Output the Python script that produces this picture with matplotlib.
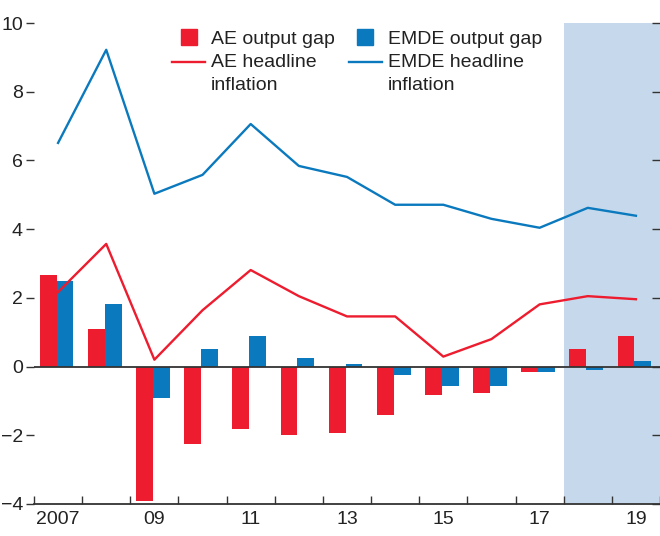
import numpy as np
import matplotlib
matplotlib.use('Agg')
import matplotlib.pyplot as plt
from matplotlib.lines import Line2D
from matplotlib.legend_handler import HandlerLine2D

plt.rcParams['font.family'] = ['Liberation Sans Narrow', 'Liberation Sans', 'DejaVu Sans']

# Data
years = list(range(2007, 2020))
year_labels = ['2007', '09', '11', '13', '15', '17', '19']
ae_gap = [2.66, 1.08, -3.91, -2.24, -1.83, -2.00, -1.92, -1.41, -0.83, -0.76, -0.17, 0.50, 0.90]
emde_gap = [2.49, 1.83, -0.91, 0.50, 0.90, 0.24, 0.07, -0.25, -0.58, -0.58, -0.17, -0.09, 0.16]
ae_infl = [2.17, 3.57, 0.20, 1.64, 2.81, 2.05, 1.46, 1.46, 0.29, 0.80, 1.81, 2.05, 1.96]
emde_infl = [6.51, 9.22, 5.03, 5.58, 7.06, 5.84, 5.52, 4.71, 4.71, 4.30, 4.04, 4.62, 4.39]

red = '#ED1C2E'
blue = '#0A79BD'
shade = '#C6D9EC'
dark = '#333333'


# legend line sits level with the first text line, not centred on both
class TopLine(HandlerLine2D):
    def create_artists(self, legend, orig_handle, xdescent, ydescent, width, height, fontsize, trans):
        arts = super().create_artists(legend, orig_handle, xdescent, ydescent,
                                      width, height, fontsize, trans)
        for a in arts:
            a.set_ydata(np.asarray(a.get_ydata()) + 0.62 * fontsize)
        return arts


fig = plt.figure(figsize=(6.6, 5.36), dpi=100)
ax = fig.add_axes([34 / 660, 1 - 504 / 536, 626 / 660, (504 - 23) / 536])

x = np.arange(len(years))
w = 0.35

# projection shading for 2018-19
ax.axvspan(10.5, 12.5, color=shade, lw=0, zorder=0)

ax.bar(x - w / 2 - 0.03, ae_gap, w, color=red, lw=0, zorder=2)
ax.bar(x + w / 2 - 0.03, emde_gap, w, color=blue, lw=0, zorder=2)
ax.axhline(0, color=dark, lw=1.3, zorder=3)

ax.plot(x, ae_infl, color=red, lw=1.7, zorder=4)
ax.plot(x, emde_infl, color=blue, lw=1.7, zorder=4)

ax.set_xlim(-0.5, 12.5)
ax.set_ylim(-4, 10)

for s in ['top', 'left', 'right']:
    ax.spines[s].set_visible(False)
ax.spines['bottom'].set_color(dark)
ax.spines['bottom'].set_linewidth(1.3)

# x ticks: boundaries as tick marks, labels at odd years
ax.set_xticks(np.arange(-0.5, 12.6, 1.0))
ax.set_xticklabels([])
ax.tick_params(axis='x', which='major', direction='in', length=6, width=1, color=dark)
ax.set_xticks(x[::2], minor=True)
ax.set_xticklabels(year_labels, minor=True)
ax.tick_params(axis='x', which='minor', length=0, pad=5, labelsize=14, labelcolor='#222222')

ax.set_yticks(np.arange(-4, 11, 2))
ax.tick_params(axis='y', which='major', direction='out', length=6, width=1, color=dark,
               labelsize=14, labelcolor='#222222', pad=2, right=True)
# right-side ticks pointing inward
for t in ax.yaxis.get_major_ticks():
    t.tick2line.set_marker(matplotlib.lines.TICKLEFT)
    t.tick2line.set_markersize(6)

ae_line = Line2D([], [], color=red, lw=1.7)
emde_line = Line2D([], [], color=blue, lw=1.7)
handles = [
    Line2D([], [], color=red, marker='s', ls='none', markersize=12),
    ae_line,
    Line2D([], [], color=blue, marker='s', ls='none', markersize=12),
    emde_line,
]
labels = ['AE output gap', 'AE headline\ninflation', 'EMDE output gap', 'EMDE headline\ninflation']
leg = ax.legend(handles, labels, ncol=2, loc='upper left', bbox_to_anchor=(0.221, 0.985),
                frameon=False, fontsize=14, handlelength=1.7, handletextpad=0.3,
                columnspacing=0.7, labelspacing=0.3, borderpad=0, borderaxespad=0,
                handler_map={ae_line: TopLine(), emde_line: TopLine()})
for t in leg.get_texts():
    t.set_color('#222222')
    t.set_linespacing(1.5)

fig.savefig('out.png', dpi=100)
